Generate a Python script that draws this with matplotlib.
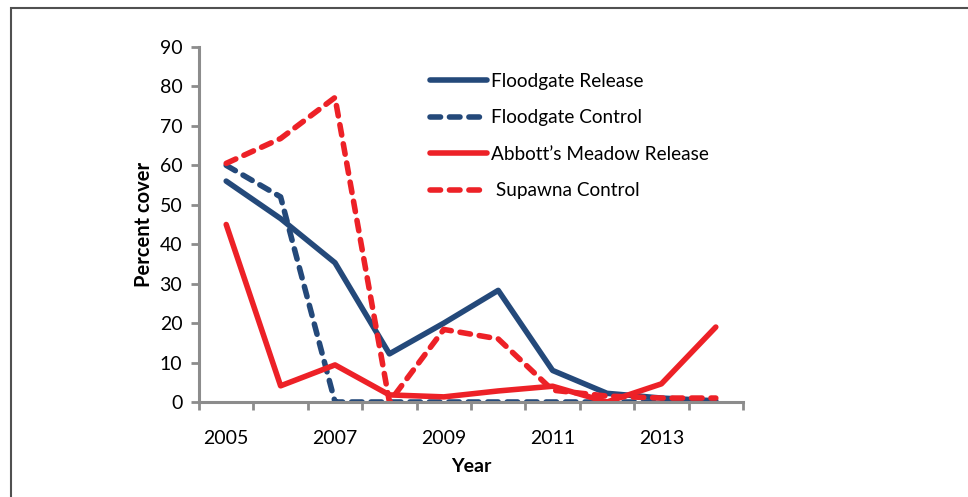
import numpy as np
import matplotlib.pyplot as plt
from matplotlib.lines import Line2D
from matplotlib.patches import Rectangle

plt.rcParams['font.family'] = ['Lato', 'DejaVu Sans']

# data
years = [2005, 2006, 2007, 2008, 2009, 2010, 2011, 2012, 2013, 2014]
floodgate_release = [56, 46.5, 35.3, 12.2, 20, 28.3, 8, 2.2, 1, 0.3]
floodgate_control = [60, 52, 0, 0, 0, 0, 0, 0, 0, 0]
abbotts_release = [45, 4.1, 9.4, 1.8, 1.3, 2.8, 4, 0, 4.6, 19]
supawna_control = [60.5, 66.8, 77.2, 0, 18.4, 16, 3, 1.5, 1, 1]

blue = '#24497A'
red = '#ED2127'
grey = '#8C8C8C'

fig = plt.figure(figsize=(9.68, 4.97), dpi=100)
ax = fig.add_axes([199/968, 1-402/497, (743-199)/968, (402-47)/497])

x = np.arange(len(years))
lw = 4.0
dash = (1.9, 1.6)
ax.plot(x, floodgate_release, color=blue, lw=lw, solid_capstyle='round',
        solid_joinstyle='round', label='Floodgate Release')
ax.plot(x, floodgate_control, color=blue, lw=lw, dashes=dash,
        dash_capstyle='round', label='Floodgate Control')
ax.plot(x, abbotts_release, color=red, lw=lw, solid_capstyle='round',
        solid_joinstyle='round', label='Abbott\u2019s Meadow Release')
ax.plot(x, supawna_control, color=red, lw=lw, dashes=dash,
        dash_capstyle='round', label=' Supawna Control')

ax.set_xlim(-0.5, len(years) - 0.5)
ax.set_ylim(0, 90)
ax.set_yticks(range(0, 91, 10))

# category axis: ticks between categories, labels every other year
ax.set_xticks(np.arange(-0.5, len(years), 1.0))
ax.set_xticklabels([])
ax.set_xticks(x[::2], minor=True)
ax.set_xticklabels([str(y) for y in years[::2]], minor=True)
ax.tick_params(axis='x', which='minor', length=0, pad=20, labelsize=14)
ax.tick_params(axis='x', which='major', length=6, width=2, color=grey, direction='out')
ax.tick_params(axis='y', length=6, width=2, color=grey, labelsize=14, pad=6)

for s in ['top', 'right']:
    ax.spines[s].set_visible(False)
for s in ['left', 'bottom']:
    ax.spines[s].set_color(grey)
    ax.spines[s].set_linewidth(2.2)

ax.set_ylabel('Percent cover', fontsize=14.5, fontweight='bold', labelpad=4)
ax.set_xlabel('Year', fontsize=14, fontweight='bold', labelpad=8)

handles = [
    Line2D([], [], color=blue, lw=lw, solid_capstyle='round'),
    Line2D([], [], color=blue, lw=lw, dashes=dash, dash_capstyle='round'),
    Line2D([], [], color=red, lw=lw, solid_capstyle='round'),
    Line2D([], [], color=red, lw=lw, dashes=dash, dash_capstyle='round'),
]
labels = ['Floodgate Release', 'Floodgate Control',
          'Abbott\u2019s Meadow Release', ' Supawna Control']
fig.legend(handles, labels, loc='upper left', bbox_to_anchor=(430/968, 1-73/497),
           frameon=False, fontsize=13.7, handlelength=3.0, handletextpad=0.2,
           labelspacing=1.02, borderpad=0, borderaxespad=0)

# outer frame of the chart area
fig.add_artist(Rectangle((11/968, -0.1), 1.2, 1 - 8/497 + 0.1,
                         transform=fig.transFigure, fill=False,
                         edgecolor='#505050', lw=1.5))

fig.savefig('out.png', dpi=100)
